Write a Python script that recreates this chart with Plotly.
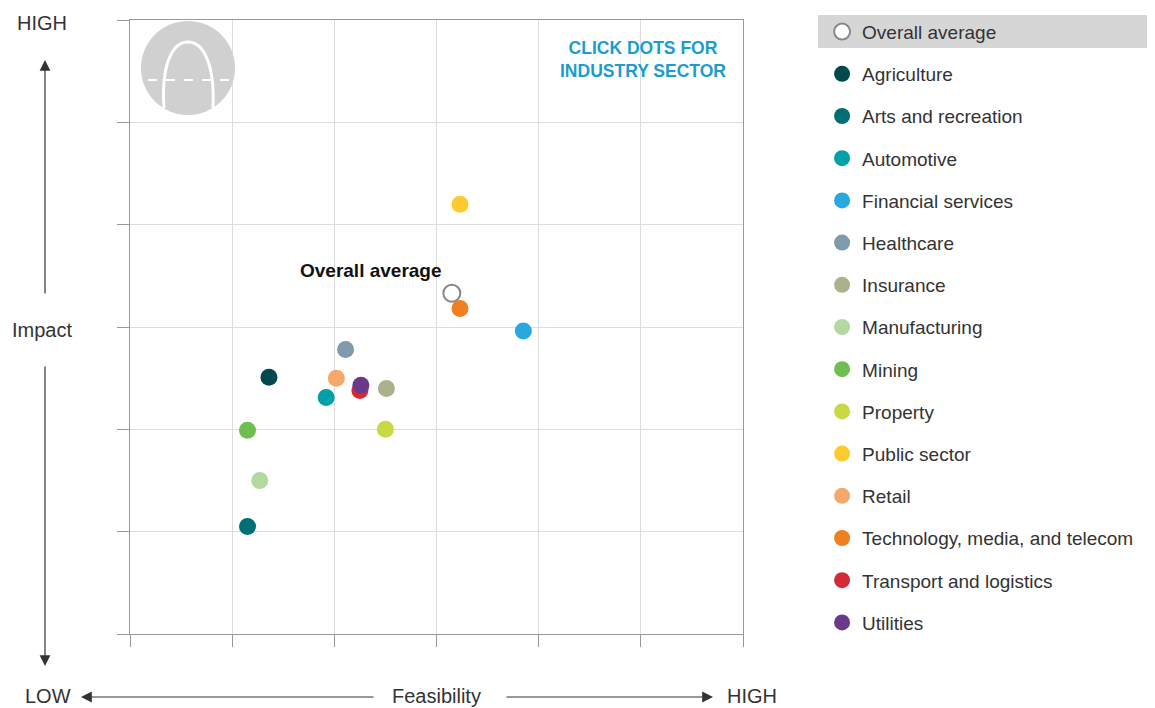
import plotly.graph_objects as go

# sector data (feasibility 0-6, impact 0-6)
sectors = ["Agriculture", "Arts and recreation", "Automotive", "Financial services",
           "Healthcare", "Insurance", "Manufacturing", "Mining", "Property",
           "Public sector", "Retail", "Technology, media, and telecom",
           "Transport and logistics", "Utilities"]
feasibility = [1.36, 1.15, 1.92, 3.85, 2.11, 2.51, 1.27, 1.15, 2.50, 3.23, 2.02, 3.23, 2.25, 2.26]
impact = [2.51, 1.05, 2.31, 2.96, 2.78, 2.40, 1.50, 1.99, 2.00, 4.20, 2.50, 3.18, 2.38, 2.43]
colors = ["#004a4f", "#006f74", "#00a0a8", "#27a8e0", "#7f9aab", "#adb08c", "#b3d9a0",
          "#6cbf50", "#c8d943", "#fdcb2f", "#f5a86b", "#f07f20", "#d42a38", "#6a3a8a"]

avg_feasibility = [3.15]
avg_impact = [3.33]

font = "Liberation Sans, Arial, sans-serif"

fig = go.Figure()

fig.add_trace(go.Scatter(
    x=avg_feasibility, y=avg_impact, mode="markers", name="Overall average",
    legendgroup="avg",
    marker=dict(size=17, color="white", line=dict(color="#888888", width=2)),
))

for name, fx, iy, c in zip(sectors, feasibility, impact, colors):
    fig.add_trace(go.Scatter(
        x=[fx], y=[iy], mode="markers", name=name, legendgroup=name,
        marker=dict(size=17, color=c, line=dict(width=0)),
    ))


# helpers for the decorations (reference pixel -> data / paper)
def px2x(px):
    return (px - 130) / (613 / 6)


def px2y(py):
    return (634 - py) / (614 / 6)


def paper_x(px):
    return (px - 130) / 613


def paper_y(py):
    return (634 - py) / 614


# gray icon in the top-left corner
fig.add_shape(type="circle", xref="x", yref="y",
              x0=px2x(141), x1=px2x(235), y0=px2y(115), y1=px2y(21),
              fillcolor="#d0d0d0", line=dict(width=0), layer="above")
arch = "M {},{} C {},{} {},{} {},{} C {},{} {},{} {},{}".format(
    px2x(164), px2y(108),
    px2x(161), px2y(66), px2x(172), px2y(42), px2x(188), px2y(42),
    px2x(204), px2y(42), px2x(215), px2y(66), px2x(213), px2y(108))
fig.add_shape(type="path", path=arch, xref="x", yref="y",
              line=dict(color="white", width=3), layer="above")
fig.add_shape(type="line", xref="x", yref="y",
              x0=px2x(148), x1=px2x(229), y0=px2y(80), y1=px2y(80),
              line=dict(color="white", width=2, dash="dash"), layer="above")

# gray highlight behind the first legend entry
fig.add_shape(type="rect", xref="paper", yref="paper",
              x0=paper_x(818), x1=paper_x(1170),
              y0=paper_y(48), y1=paper_y(15),
              fillcolor="#d6d6d6", line=dict(width=0))

txt = dict(family=font, size=20, color="#333333")
annotations = [
    dict(x=paper_x(42), y=paper_y(23), text="HIGH"),
    dict(x=paper_x(42), y=paper_y(330), text="Impact"),
    dict(x=paper_x(48), y=paper_y(696), text="LOW"),
    dict(x=paper_x(436), y=paper_y(696), text="Feasibility"),
    dict(x=paper_x(752), y=paper_y(696), text="HIGH"),
]
for a in annotations:
    fig.add_annotation(xref="paper", yref="paper", showarrow=False,
                       xanchor="center", yanchor="middle", font=txt, **a)

# axis arrows (head position, tail offset in pixels)
arrows = [((45, 60), (0, 235)), ((45, 666), (0, -301)),
          ((81, 697), (294, 0)), ((713, 697), (-208, 0))]
for (hx, hy), (ox, oy) in arrows:
    fig.add_annotation(xref="paper", yref="paper",
                       x=paper_x(hx), y=paper_y(hy),
                       ax=ox, ay=oy, axref="pixel", ayref="pixel",
                       text="", showarrow=True, arrowhead=2, arrowsize=1.8,
                       arrowwidth=1.2, arrowcolor="#333333")

fig.add_annotation(x=px2x(371), y=px2y(270), text="<b>Overall average</b>",
                   showarrow=False, font=dict(family=font, size=19, color="#111111"))
fig.add_annotation(x=px2x(643), y=px2y(59), text="<b>CLICK DOTS FOR<br>INDUSTRY SECTOR</b>",
                   showarrow=False, align="center",
                   font=dict(family=font, size=17.5, color="#1a9ccf"))

axis = dict(range=[0, 6], dtick=1, tick0=0, showticklabels=False, ticks="outside",
            ticklen=12, tickcolor="#999999", showgrid=True, gridcolor="#dddddd",
            showline=True, linecolor="#999999", mirror=True, zeroline=False,
            fixedrange=True)

# page has an 8px body margin, so the figure is drawn 8px smaller
fig.update_layout(
    width=1147, height=700,
    margin=dict(l=122, r=412, t=12, b=74, autoexpand=False),
    plot_bgcolor="white", paper_bgcolor="white",
    xaxis=axis, yaxis=axis,
    font=dict(family=font, color="#333333"),
    legend=dict(x=1.129, y=1.0118, xanchor="left", yanchor="top",
                font=dict(family=font, size=19, color="#333333"),
                tracegroupgap=14.5, itemsizing="trace", maxheight=690,
                bgcolor="rgba(0,0,0,0)"),
)

fig.write_html("out.html")
